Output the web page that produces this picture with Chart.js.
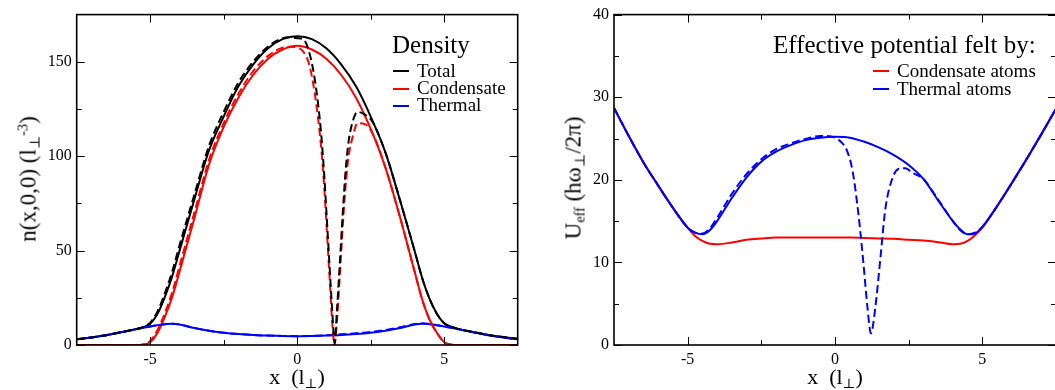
<!DOCTYPE html>
<html>
<head>
<meta charset="utf-8">
<script src="https://cdn.jsdelivr.net/npm/chart.js@4.4.1/dist/chart.umd.min.js"></script>
<style>
  html, body { margin: 0; padding: 0; background: #fff; overflow: hidden; }
  #wrap { position: relative; width: 1055px; height: 390px; overflow: hidden; font-family: "Liberation Serif", "DejaVu Serif", serif; color: #000; }
  .pane { position: absolute; top: 0; }
  .txt { position: absolute; white-space: nowrap; line-height: 1; }
  .rot { transform: translate(-50%, -50%) rotate(-90deg); }
  .sub { position: relative; top: 0.3em; font-size: 0.62em; }
  .sup { position: relative; top: -0.55em; font-size: 0.62em; }
  .key { position: absolute; width: 16px; height: 2px; }
</style>
</head>
<body>
<div id="wrap">
  <div class="pane" style="left:0"><canvas id="density" width="530" height="390"></canvas></div>
  <div class="pane" style="left:530px"><canvas id="potential" width="530" height="390"></canvas></div>

  <!-- axis titles -->
  <div class="txt rot" style="left:28px;top:179px;font-size:23px">n(x,0,0) (l<span class="sub">⊥</span><span class="sup">-3</span>)</div>
  <div class="txt" style="left:297px;top:366px;font-size:22px;transform:translateX(-50%)">x&nbsp; (l<span class="sub">⊥</span>)</div>
  <div class="txt rot" style="left:573px;top:178px;font-size:23px">U<span class="sub">eff</span> (hω<span class="sub">⊥</span>/2π)</div>
  <div class="txt" style="left:835px;top:366px;font-size:22px;transform:translateX(-50%)">x&nbsp; (l<span class="sub">⊥</span>)</div>

  <!-- legend: density -->
  <div class="txt" style="left:392px;top:32px;font-size:25px">Density</div>
  <div class="key" style="left:393px;top:70px;background:#000"></div>
  <div class="txt" style="left:417px;top:61px;font-size:19px">Total</div>
  <div class="key" style="left:393px;top:88px;background:#f00"></div>
  <div class="txt" style="left:417px;top:78px;font-size:19px">Condensate</div>
  <div class="key" style="left:393px;top:105px;background:#00f"></div>
  <div class="txt" style="left:417px;top:95px;font-size:19px">Thermal</div>

  <!-- legend: potential -->
  <div class="txt" style="left:773px;top:32px;font-size:25px">Effective potential felt by:</div>
  <div class="key" style="left:873px;top:70px;background:#f00"></div>
  <div class="txt" style="left:897px;top:61px;font-size:19px">Condensate atoms</div>
  <div class="key" style="left:873px;top:88px;background:#00f"></div>
  <div class="txt" style="left:897px;top:79px;font-size:19px">Thermal atoms</div>
</div>

<script>
// ---- left panel: density along x (l_perp units) ----
const xGrid = [-7.5, -7, -6.5, -6, -5.5, -5.25, -5, -4.75, -4.5, -4.25, -4, -3.5, -3, -2.5, -2, -1.5, -1, -0.5,
  0, 0.5, 1, 1.5, 2, 2.5, 3, 3.5, 4, 4.25, 4.5, 4.75, 5, 5.25, 5.5, 6, 6.5, 7, 7.5];
const totalSolid = [3.0, 4.0, 5.2, 6.7, 8.3, 9.4, 11.2, 16.5, 25.5, 36.5, 50, 77, 103, 121, 137, 148.5, 157, 162,
  163.5, 162, 157, 148.5, 137, 121, 102, 76.5, 49.5, 35.5, 24.5, 16.5, 11.5, 9.6, 8.4, 6.8, 5.3, 4.2, 3.3];
const condSolid = [0, 0, 0, 0, 0, 0.2, 1.5, 6.5, 15, 25.5, 39, 67, 95.5, 115.5, 131, 143, 151.5, 156.5,
  158.5, 156.5, 151.5, 143, 131, 114.5, 94, 67.5, 38.5, 24.2, 13.5, 6.5, 1.5, 0.2, 0, 0, 0, 0, 0];
const thermSolid = [3.0, 4.0, 5.2, 6.7, 8.3, 9.1, 9.8, 10.5, 11.0, 11.3, 10.9, 9.0, 7.5, 6.5, 5.8, 5.3, 5.0, 4.8,
  4.7, 4.8, 5.0, 5.3, 5.8, 6.5, 7.5, 9.0, 10.9, 11.3, 11.0, 10.5, 9.8, 9.1, 8.3, 6.7, 5.2, 4.0, 3.0];
const thermDash = [3.0, 4.0, 5.2, 6.7, 8.3, 9.1, 9.8, 10.5, 11.0, 11.3, 10.9, 9.0, 7.5, 6.5, 5.8, 5.3, 5.0, 4.8,
  4.7, 4.8, 5.2, 5.7, 6.2, 6.9, 7.9, 9.4, 11.1, 11.5, 11.1, 10.5, 9.8, 9.1, 8.3, 6.7, 5.2, 4.0, 3.0];

// dashed curves: state with the dark soliton near x = 1.27
const xSoliton = [-7.5, -7, -6.5, -6, -5.5, -5.25, -5, -4.75, -4.5, -4.25, -4, -3.5, -3, -2.5, -2, -1.5, -1, -0.5, -0.25,
  0, 0.2, 0.4, 0.6, 0.8, 0.9, 1.0, 1.1, 1.2, 1.27, 1.35, 1.45, 1.55, 1.65, 1.75, 1.9, 2.05, 2.3, 2.55,
  3, 3.5, 4, 4.25, 4.5, 4.75, 5, 5.25, 5.5, 6, 6.5, 7, 7.5];
const totalDash = [3.0, 4.0, 5.2, 6.7, 8.4, 9.5, 11.8, 17.8, 27.5, 39, 53, 79.5, 105.5, 123.5, 139, 150, 158, 162.5, 163,
  162.5, 162, 155.5, 140.5, 114.5, 94.5, 69, 42, 16, 1, 18, 43.5, 70, 93, 108, 119, 123.5, 122, 118.5,
  102, 76.5, 49.5, 35.5, 24.5, 16.5, 11.5, 9.6, 8.4, 6.8, 5.3, 4.2, 3.3];
const condDash = [0, 0, 0, 0, 0, 0.3, 2.2, 8, 17, 28, 42, 70, 98, 117.5, 133, 145, 153, 157.5, 158,
  157.5, 155.5, 149, 133, 107, 88, 63, 36, 10, 0, 12, 37, 63, 85, 100, 111, 117.5, 117, 112.5,
  94, 67.5, 38.5, 24.2, 13.5, 6.5, 1.5, 0.2, 0, 0, 0, 0, 0];

// ---- right panel: effective potential (h omega_perp / 2pi) ----
const uGrid = [-7.5, -7, -6.5, -6, -5.5, -5, -4.75, -4.5, -4.25, -4, -3.5, -3, -2.5, -2, -1.5, -1, -0.5,
  0, 0.5, 1, 1.5, 2, 2.5, 3, 3.5, 4, 4.25, 4.5, 4.75, 5, 5.5, 6, 6.5, 7, 7.5];
const uThermal = [28.7, 25.3, 22.1, 19.3, 16.6, 14.2, 13.6, 13.4, 13.9, 15.0, 17.8, 20.3, 22.2, 23.4, 24.2, 24.8, 25.1,
  25.2, 25.1, 24.6, 23.9, 23.0, 21.8, 20.1, 17.5, 15.0, 14.0, 13.4, 13.5, 14.3, 16.8, 19.6, 22.5, 25.5, 28.6];
const uCond = [28.7, 25.3, 22.1, 19.3, 16.6, 14.2, 13.2, 12.6, 12.25, 12.2, 12.4, 12.75, 12.9, 13.0, 13.0, 13.0, 13.0,
  13.0, 13.0, 12.95, 12.9, 12.85, 12.75, 12.65, 12.45, 12.2, 12.25, 12.6, 13.3, 14.2, 16.8, 19.6, 22.5, 25.5, 28.6];
const uSoliton = [-7.5, -7, -6.5, -6, -5.5, -5, -4.75, -4.5, -4.25, -4, -3.5, -3, -2.5, -2, -1.5, -1, -0.5, -0.25,
  0, 0.2, 0.4, 0.6, 0.8, 0.97, 1.1, 1.22, 1.37, 1.54, 1.71, 1.94, 2.15, 2.4, 2.6,
  3, 3.5, 4, 4.25, 4.5, 4.75, 5, 5.5, 6, 6.5, 7, 7.5];
const uThermalDash = [28.7, 25.3, 22.1, 19.3, 16.6, 14.2, 13.6, 13.5, 14.1, 15.4, 18.3, 20.7, 22.5, 23.7, 24.4, 24.95, 25.3, 25.3,
  25.1, 24.6, 23.6, 21.0, 15.7, 9.7, 4.6, 1.4, 4.6, 10.5, 16.5, 20.1, 21.3, 21.4, 20.9,
  20.1, 17.6, 15.0, 13.9, 13.4, 13.6, 14.3, 16.8, 19.6, 22.5, 25.5, 28.6];

// tick values
const xMajor = [-5, 0, 5];
const xMinor = [-2.5, 2.5];
const nMajor = [0, 50, 100, 150];
const nMinor = [25, 75, 125];
const uMajor = [0, 10, 20, 30, 40];
const uMinor = [5, 15, 25, 35];

const FONT = '"Liberation Serif", "DejaVu Serif", serif';

function pts(xs, ys) {
  return xs.map((x, i) => ({ x, y: ys[i] }));
}

function line(xs, ys, color, dashed) {
  return {
    data: pts(xs, ys),
    borderColor: color,
    borderWidth: 2,
    borderDash: dashed ? [8, 4] : [],
    pointRadius: 0,
    fill: false,
    cubicInterpolationMode: 'monotone',
  };
}

// frame + inward ticks on all four sides (xmgrace style)
const frameTicks = {
  id: 'frameTicks',
  afterDatasetsDraw(chart, args, o) {
    const { ctx, chartArea: a, scales: { x, y } } = chart;
    ctx.save();
    ctx.strokeStyle = '#000';
    ctx.lineWidth = 1;
    ctx.beginPath();
    const xt = (vals, len) => vals.forEach(v => {
      const px = Math.round(x.getPixelForValue(v)) + 0.5;
      ctx.moveTo(px, a.bottom); ctx.lineTo(px, a.bottom - len);
      ctx.moveTo(px, a.top); ctx.lineTo(px, a.top + len);
    });
    const yt = (vals, len) => vals.forEach(v => {
      const py = Math.round(y.getPixelForValue(v)) + 0.5;
      ctx.moveTo(a.left, py); ctx.lineTo(a.left + len, py);
      ctx.moveTo(a.right, py); ctx.lineTo(a.right - len, py);
    });
    xt(o.xMajor, 8); xt(o.xMinor, 5);
    yt(o.yMajor, 8); yt(o.yMinor, 5);
    ctx.stroke();
    ctx.lineWidth = 1.6;
    ctx.strokeRect(a.left, a.top, a.right - a.left, a.bottom - a.top);
    ctx.restore();
  }
};

function options(cfg) {
  return {
    responsive: false,
    animation: false,
    devicePixelRatio: 1,
    events: [],
    layout: { padding: { left: 0, right: cfg.padRight, top: 9.5, bottom: 0 } },
    plugins: {
      legend: { display: false },
      tooltip: { enabled: false },
      frameTicks: { xMajor, xMinor, yMajor: cfg.yMajor, yMinor: cfg.yMinor },
    },
    scales: {
      x: {
        type: 'linear', min: -7.5, max: 7.5,
        afterBuildTicks: s => { s.ticks = xMajor.map(v => ({ value: v })); },
        afterFit: s => { s.height = 45; },
        grid: { display: false, drawTicks: false },
        border: { display: false },
        ticks: { padding: 5, color: '#000', maxRotation: 0, autoSkip: false, font: { family: FONT, size: 16 } },
      },
      y: {
        type: 'linear', min: 0, max: cfg.yMax,
        afterBuildTicks: s => { s.ticks = cfg.yMajor.map(v => ({ value: v })); },
        afterFit: s => { s.width = cfg.yWidth; },
        grid: { display: false, drawTicks: false },
        border: { display: false },
        ticks: { padding: 5, color: '#000', autoSkip: false, font: { family: FONT, size: 16 } },
      },
    },
  };
}

new Chart(document.getElementById('density'), {
  type: 'line',
  data: {
    datasets: [
      line(xSoliton, totalDash, '#000', true),
      line(xSoliton, condDash, '#f00', true),
      line(xGrid, thermDash, '#00f', true),
      line(xGrid, thermSolid, '#00f', false),
      line(xGrid, totalSolid, '#000', false),
      line(xGrid, condSolid, '#f00', false),
    ]
  },
  options: options({ yMax: 175, yMajor: nMajor, yMinor: nMinor, yWidth: 76.7, padRight: 12.3 }),
  plugins: [frameTicks],
});

new Chart(document.getElementById('potential'), {
  type: 'line',
  data: {
    datasets: [
      line(uSoliton, uThermalDash, '#00f', true),
      line(uGrid, uThermal, '#00f', false),
      line(uGrid, uCond, '#f00', false),
    ]
  },
  options: options({ yMax: 40, yMajor: uMajor, yMinor: uMinor, yWidth: 84, padRight: 4 }),
  plugins: [frameTicks],
});
</script>
</body>
</html>
